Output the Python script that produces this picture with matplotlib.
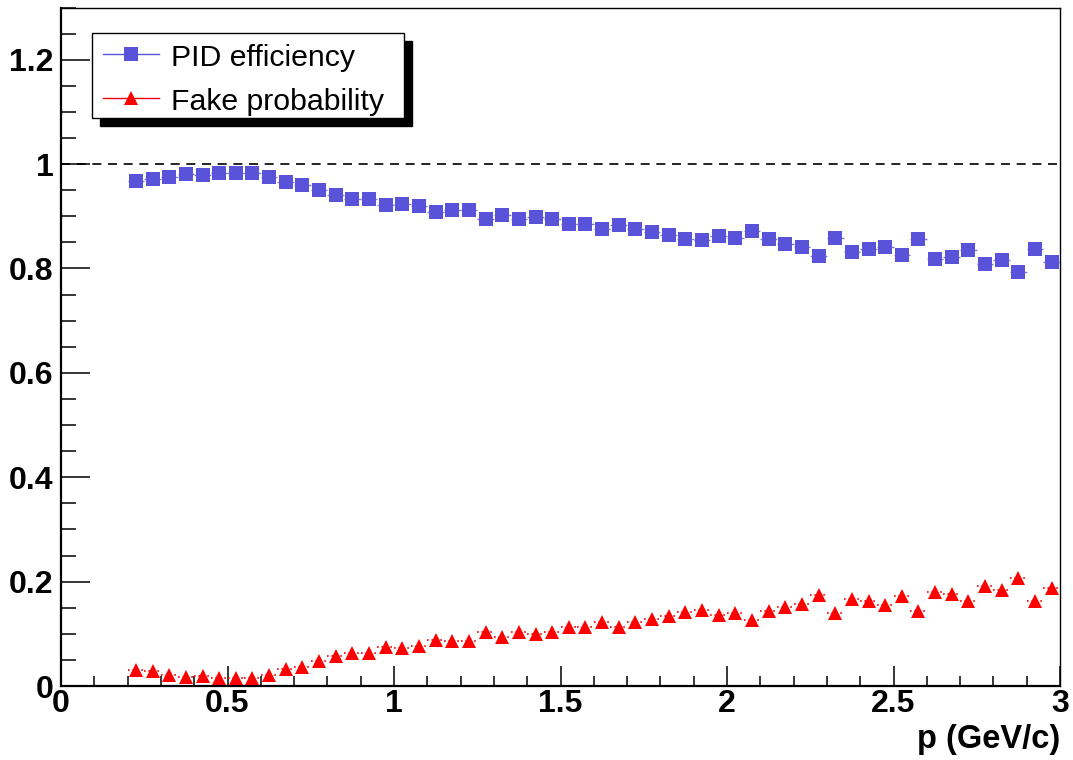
import numpy as np
import matplotlib
matplotlib.use("Agg")
import matplotlib.pyplot as plt
from matplotlib.patches import Rectangle
from matplotlib.lines import Line2D
from matplotlib.ticker import MultipleLocator, FuncFormatter

plt.rcParams['font.family'] = ['Liberation Sans', 'DejaVu Sans']

# momentum bins: 0.2 - 3.0 GeV/c, 0.05 wide
bin_edges = np.linspace(0.2, 3.0, 57)
p = 0.5 * (bin_edges[:-1] + bin_edges[1:])
half_width = 0.5 * (bin_edges[1:] - bin_edges[:-1])

efficiency = [
    0.968, 0.971, 0.976, 0.981, 0.980, 0.982, 0.982, 0.982, 0.976, 0.966,
    0.960, 0.951, 0.940, 0.934, 0.934, 0.922, 0.924, 0.920, 0.909, 0.912,
    0.912, 0.894, 0.903, 0.895, 0.898, 0.894, 0.885, 0.885, 0.876, 0.884,
    0.876, 0.870, 0.864, 0.856, 0.854, 0.863, 0.859, 0.872, 0.856, 0.847,
    0.841, 0.824, 0.859, 0.831, 0.837, 0.842, 0.826, 0.856, 0.819, 0.822,
    0.835, 0.808, 0.816, 0.793, 0.837, 0.812,
]
fake = [
    0.031, 0.029, 0.022, 0.018, 0.019, 0.016, 0.016, 0.016, 0.022, 0.033,
    0.037, 0.047, 0.057, 0.064, 0.064, 0.075, 0.073, 0.077, 0.088, 0.087,
    0.087, 0.104, 0.094, 0.103, 0.100, 0.103, 0.114, 0.113, 0.122, 0.114,
    0.122, 0.128, 0.135, 0.142, 0.146, 0.136, 0.140, 0.126, 0.144, 0.152,
    0.158, 0.175, 0.140, 0.167, 0.162, 0.156, 0.173, 0.144, 0.181, 0.177,
    0.163, 0.191, 0.183, 0.206, 0.162, 0.187,
]

labels = ["PID efficiency", "Fake probability"]
blue = '#5953da'
red = '#ff0000'

W, H = 1073, 760
fig = plt.figure(figsize=(W / 100, H / 100), dpi=100)
ax = fig.add_axes([61 / W, 1 - 686 / H, 999 / W, 678.5 / H])

# reference line at 1
ax.axhline(1.0, color='k', lw=1.2, dashes=(5.4, 4.0), zorder=1)

eb1 = ax.errorbar(p, efficiency, xerr=half_width, fmt='s', color=blue,
                  ms=10.5, mew=0, elinewidth=1.0, ecolor='#7d78e6', zorder=3)
eb2 = ax.errorbar(p, fake, xerr=half_width, fmt='^', color=red,
                  ms=9.8, mew=0, elinewidth=1.2, ecolor=red, zorder=3)
eb2[2][0].set_linestyle(':')

ax.set_xlim(0, 3)
ax.set_ylim(0, 1.3)

fmt = FuncFormatter(lambda v, pos: '%g' % round(v, 3))
ax.xaxis.set_major_locator(MultipleLocator(0.5))
ax.xaxis.set_minor_locator(MultipleLocator(0.1))
ax.yaxis.set_major_locator(MultipleLocator(0.2))
ax.yaxis.set_minor_locator(MultipleLocator(0.05))
ax.xaxis.set_major_formatter(fmt)
ax.yaxis.set_major_formatter(fmt)

ax.tick_params(axis='x', which='major', direction='in', length=14.4, width=1.1,
               labelsize=23, pad=2.5)
ax.tick_params(axis='x', which='minor', direction='in', length=7.2, width=1.1)
ax.tick_params(axis='y', which='major', direction='in', length=21, width=1.1,
               labelsize=23, pad=5.5)
ax.tick_params(axis='y', which='minor', direction='in', length=10.8, width=1.1)
for lab in ax.get_xticklabels() + ax.get_yticklabels():
    lab.set_fontweight('bold')

for side in ('left', 'bottom'):
    ax.spines[side].set_linewidth(1.6)
for side in ('top', 'right'):
    ax.spines[side].set_linewidth(1.0)

ax.set_xlabel("p (GeV/c)", fontsize=23.5, fontweight='bold', loc='right',
              labelpad=3)


# legend box with a solid drop shadow, placed in figure pixels
def fx(x):
    return x / W


def fy(y):
    return 1 - y / H


box_l, box_t, box_r, box_b = 92, 33, 404, 118
fig.patches.append(Rectangle((fx(box_l + 8), fy(box_b + 8)),
                             (box_r - box_l) / W, (box_b - box_t) / H,
                             transform=fig.transFigure, facecolor='k',
                             edgecolor='k', zorder=5))
fig.patches.append(Rectangle((fx(box_l), fy(box_b)),
                             (box_r - box_l) / W, (box_b - box_t) / H,
                             transform=fig.transFigure, facecolor='white',
                             edgecolor='k', lw=1.0, zorder=6))

rows = [(54, blue, 's', 10.5), (98, red, '^', 9.8)]
for (row_y, col, mk, ms), text in zip(rows, labels):
    fig.add_artist(Line2D([fx(103), fx(159)], [fy(row_y), fy(row_y)],
                          transform=fig.transFigure, color=col, lw=1.0,
                          zorder=7))
    fig.add_artist(Line2D([fx(131)], [fy(row_y)], transform=fig.transFigure,
                          marker=mk, ms=ms, mew=0, color=col, ls='none',
                          zorder=8))
    fig.text(fx(171), fy(row_y + 11.5), text, fontsize=21.8, va='baseline',
             ha='left', zorder=8)

fig.savefig("out.png", dpi=100)
